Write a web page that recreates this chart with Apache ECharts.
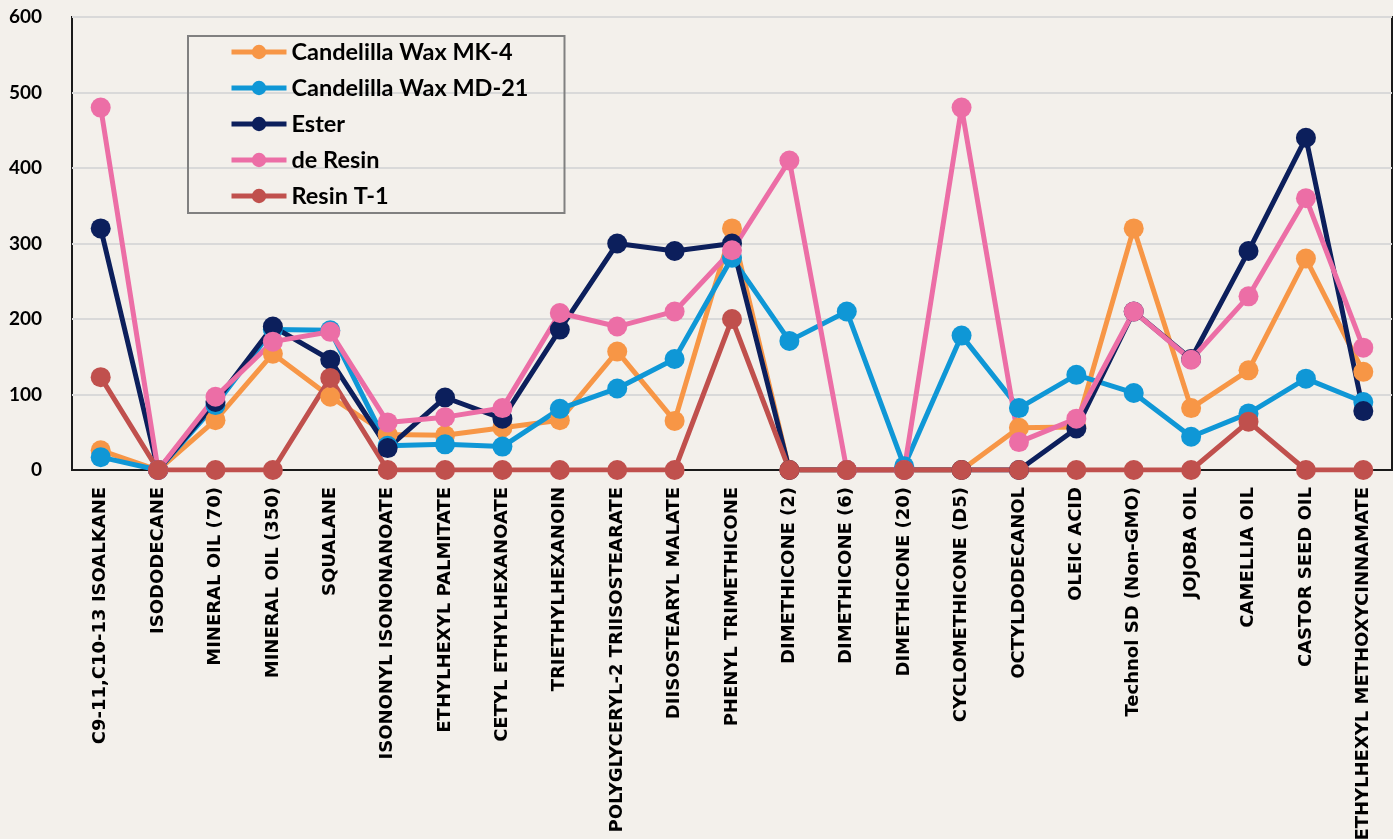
<!DOCTYPE html>
<html>
<head>
<meta charset="utf-8">
<script src="https://cdn.jsdelivr.net/npm/echarts@6/dist/echarts.min.js"></script>
<style>
  html, body { margin: 0; padding: 0; background: #f3f0eb; }
  #chart { width: 1393px; height: 839px; }
</style>
</head>
<body>
<div id="chart"></div>
<script>
const categories = [
    'C9-11,C10-13 ISOALKANE', 'ISODODECANE', 'MINERAL OIL (70)', 'MINERAL OIL (350)', 'SQUALANE',
    'ISONONYL ISONONANOATE', 'ETHYLHEXYL PALMITATE', 'CETYL ETHYLHEXANOATE', 'TRIETHYLHEXANOIN',
    'POLYGLYCERYL-2 TRIISOSTEARATE', 'DIISOSTEARYL MALATE', 'PHENYL TRIMETHICONE', 'DIMETHICONE (2)',
    'DIMETHICONE (6)', 'DIMETHICONE (20)', 'CYCLOMETHICONE (D5)', 'OCTYLDODECANOL', 'OLEIC ACID',
    'Technol SD (Non-GMO)', 'JOJOBA OIL', 'CAMELLIA OIL', 'CASTOR SEED OIL', 'ETHYLHEXYL METHOXYCINNAMATE'
];

const yTicks = [0, 100, 200, 300, 400, 500, 600];

const waxMK4 = [26, 0, 66, 154, 97, 47, 46, 56, 66, 157, 65, 320, 0, 0, 0, 0, 56, 57, 320, 82, 132, 280, 130];
const waxMD21 = [17, 0, 86, 186, 185, 32, 34, 31, 81, 108, 147, 281, 171, 210, 5, 178, 82, 126, 102, 44, 75, 121, 90];
const ester = [320, 0, 90, 190, 146, 29, 96, 68, 186, 300, 290, 300, 0, 0, 0, 0, 0, 55, 210, 147, 290, 440, 78];
const deResin = [480, 0, 97, 170, 183, 63, 70, 82, 208, 190, 210, 291, 410, 0, 0, 480, 37, 68, 210, 146, 230, 360, 162];
const resinT1 = [123, 0, 0, 0, 122, 0, 0, 0, 0, 0, 0, 200, 0, 0, 0, 0, 0, 0, 0, 0, 64, 0, 0];

const seriesNames = ['Candelilla Wax MK-4', 'Candelilla Wax MD-21', 'Ester', 'de Resin', 'Resin T-1'];
const seriesColors = ['#f79646', '#0f97d6', '#0c1f5c', '#ec6ea6', '#c0504d'];
const seriesData = [waxMK4, waxMD21, ester, deResin, resinT1];

const chart = echarts.init(document.getElementById('chart'));

function makeSeries(i) {
    return {
        name: seriesNames[i],
        type: 'line',
        data: seriesData[i],
        symbol: 'circle',
        symbolSize: 20,
        lineStyle: {width: 5, color: seriesColors[i]},
        itemStyle: {color: seriesColors[i]},
        emphasis: {disabled: true},
        animation: false
    };
}

const option = {
    backgroundColor: '#f3f0eb',
    animation: false,
    grid: {
        left: 72, right: 1, top: 17, bottom: 369,
        outerBoundsMode: 'none',
        containLabel: false,
        show: true,
        borderColor: '#1a1a1a',
        borderWidth: 2
    },
    legend: {
        orient: 'vertical',
        left: 188,
        top: 36,
        padding: [4, 36, 5, 41],
        itemWidth: 55,
        itemHeight: 18,
        itemGap: 12,
        borderColor: '#808080',
        borderWidth: 2,
        data: seriesNames,
        lineStyle: {width: 5},
        textStyle: {
            fontFamily: 'Lato',
            fontWeight: 'bold',
            fontSize: 23.5,
            color: '#000',
            lineHeight: 22
        }
    },
    xAxis: {
        type: 'category',
        data: categories,
        boundaryGap: true,
        axisLine: {show: true, lineStyle: {color: '#1a1a1a', width: 2}},
        axisTick: {show: false},
        axisLabel: {
            interval: 0,
            rotate: 90,
            margin: 17,
            fontFamily: 'DejaVu Sans',
            fontWeight: 'bold',
            fontSize: 18,
            color: '#000'
        }
    },
    yAxis: {
        type: 'value',
        min: yTicks[0],
        max: yTicks[yTicks.length - 1],
        interval: 100,
        axisLine: {show: false},
        axisTick: {show: false},
        splitLine: {lineStyle: {color: '#d9d9d9', width: 2}},
        axisLabel: {
            margin: 30,
            fontFamily: 'Lato',
            fontWeight: 'bold',
            fontSize: 19,
            color: '#000'
        }
    },
    series: seriesData.map((d, i) => makeSeries(i))
};

chart.setOption(option);
</script>
</body>
</html>
